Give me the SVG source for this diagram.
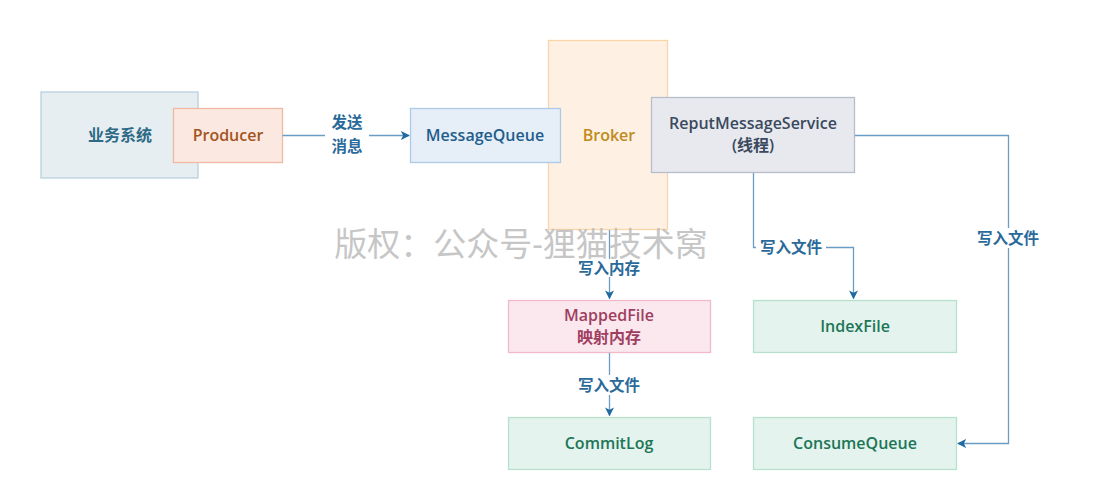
<svg xmlns="http://www.w3.org/2000/svg" width="1098" height="501" viewBox="0 0 1098 501">
<defs>
<style>
text{font-family:"Open Sans","Noto Sans CJK SC",sans-serif;font-weight:600;font-size:16px;text-anchor:middle;dominant-baseline:central}
.edge{fill:none;stroke:#6b9cc3;stroke-width:1.3}
.lbl{fill:#2a6a9a;font-size:15.5px}
.bg{fill:#fff}
</style>
<marker id="arr" viewBox="0 0 10 10" refX="9" refY="5" markerWidth="9" markerHeight="9" markerUnits="userSpaceOnUse" orient="auto">
<path d="M0,0 L10,5 L0,10 L2.5,5 Z" fill="#1f6aa0"/>
</marker>
</defs>
<rect width="1098" height="501" fill="#fff"/>
<g id="biz">
<rect x="41" y="92" width="157" height="86" fill="#e6eef2" stroke="#b9d2de" stroke-width="1.3"/>
<text x="120" y="135" fill="#2d6a86">业务系统</text>
</g>
<g id="broker">
<rect x="548.5" y="40.5" width="119" height="189" fill="#fef1e3" stroke="#fbd5a8" stroke-width="1.3"/>
<text x="609" y="135" fill="#c08a1c">Broker</text>
</g>
<g id="producer">
<rect x="173.5" y="108.5" width="109" height="54" fill="#fbe9e1" stroke="#f1b9a2" stroke-width="1.3"/>
<text x="228" y="135" fill="#a3541f">Producer</text>
</g>
<g id="mq">
<rect x="410.5" y="108.5" width="150" height="54" fill="#e6eef8" stroke="#abcbe8" stroke-width="1.3"/>
<text x="485" y="135" fill="#1f5e8c">MessageQueue</text>
</g>
<g id="reput">
<rect x="651.5" y="97.5" width="203" height="75" fill="#e8e9ee" stroke="#b8bdcb" stroke-width="1.3"/>
<text x="753" y="123" fill="#3b4a5e">ReputMessageService</text>
<text x="753" y="145" fill="#3b4a5e">(线程)</text>
</g>
<g id="mapped">
<rect x="508.5" y="300.5" width="202" height="52" fill="#fae8ee" stroke="#f2bac8" stroke-width="1.3"/>
<text x="609" y="315" fill="#a03e60">MappedFile</text>
<text x="609" y="337" fill="#a03e60">映射内存</text>
</g>
<g id="commitlog">
<rect x="508.5" y="417.5" width="202" height="52" fill="#e4f3ed" stroke="#b7e0cd" stroke-width="1.3"/>
<text x="609" y="443" fill="#1d7657">CommitLog</text>
</g>
<g id="indexfile">
<rect x="753.5" y="300.5" width="203" height="52" fill="#e4f3ed" stroke="#b7e0cd" stroke-width="1.3"/>
<text x="855" y="326" fill="#1d7657">IndexFile</text>
</g>
<g id="consumequeue">
<rect x="753.5" y="417.5" width="203" height="52" fill="#e4f3ed" stroke="#b7e0cd" stroke-width="1.3"/>
<text x="855" y="443" fill="#1d7657">ConsumeQueue</text>
</g>
<g id="connectors">
<path class="edge" d="M282.5,135.5 H409" marker-end="url(#arr)"/>
<rect class="bg" x="325" y="111" width="44" height="48"/>
<text class="lbl" x="347" y="122">发送</text>
<text class="lbl" x="347" y="146">消息</text>
<path class="edge" d="M609.5,230 V298.5" marker-end="url(#arr)"/>
<rect class="bg" x="574" y="259" width="70" height="18"/>
<text class="lbl" x="609" y="268">写入内存</text>
<path class="edge" d="M609.5,353 V415.5" marker-end="url(#arr)"/>
<rect class="bg" x="574" y="375" width="70" height="20"/>
<text class="lbl" x="609" y="385">写入文件</text>
<path class="edge" d="M753.5,173 V247.5 H853.5 V298.5" marker-end="url(#arr)"/>
<rect class="bg" x="756" y="237" width="70" height="20"/>
<text class="lbl" x="791" y="247">写入文件</text>
<path class="edge" d="M855,135.5 H1008.5 V443.5 H958" marker-end="url(#arr)"/>
<rect class="bg" x="973" y="228" width="70" height="20"/>
<text class="lbl" x="1008" y="238">写入文件</text>
</g>
<text x="521" y="243" style="font-weight:400;font-size:33px;fill:#bdbdbd;opacity:0.85">版权：公众号-狸猫技术窝</text>
</svg>
